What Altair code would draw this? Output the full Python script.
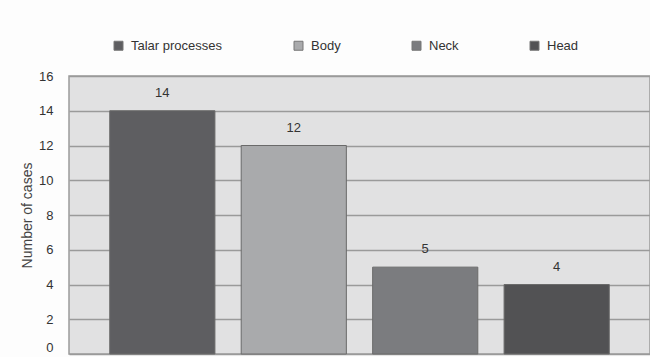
import altair as alt
import pandas as pd

categories = ["Talar processes", "Body", "Neck", "Head"]
cases = [14, 12, 5, 4]
colors = ["#5e5e61", "#a9aaac", "#7b7c7f", "#525254"]
y_ticks = [0, 2, 4, 6, 8, 10, 12, 14, 16]

df = pd.DataFrame({"category": categories, "cases": cases})

FONT = "Liberation Sans"

y_enc = alt.Y("cases:Q", scale=alt.Scale(domain=[0, 16], nice=False),
              axis=alt.Axis(values=y_ticks, tickCount=9, title="Number of cases", ticks=False,
                            labelOverlap=False,
                            labelBaseline={"condition": {"test": "datum.value == 0", "value": "bottom"},
                                           "value": "middle"},
                            labelPadding=16, labelFontSize=13, labelColor="#333333",
                            labelFont=FONT, titleFont=FONT, titleFontSize=14,
                            titleFontWeight="normal", titleColor="#444444",
                            titlePadding=4, grid=True, gridColor="#9a9a9a",
                            gridWidth=1.5, domain=False))

base = alt.Chart(df).encode(
    x=alt.X("category:N", sort=categories, axis=None,
            scale=alt.Scale(paddingInner=0.2, paddingOuter=0.31)),
    y=y_enc,
)

bars = base.mark_bar(stroke="#6a6a6a", strokeWidth=1).encode(
    color=alt.Color("category:N", sort=categories,
                    scale=alt.Scale(domain=categories, range=colors),
                    legend=alt.Legend(title=None, orient="none", direction="horizontal",
                                      legendX=43, legendY=-37, symbolType="square",
                                      symbolSize=81, symbolStrokeWidth=1,
                                      symbolStrokeColor="#777777",
                                      labelFont=FONT, labelFontSize=13,
                                      labelColor="#333333", columnPadding=69,
                                      labelOffset=6, padding=0)),
)

labels = base.mark_text(baseline="bottom", dy=-11, font=FONT, fontSize=13,
                        color="#333333").encode(
    text=alt.Text("cases:Q"),
)

chart = (bars + labels).properties(
    width=581, height=278,
    autosize=alt.AutoSizeParams(type="none"),
    padding={"left": 69, "top": 76, "right": 0, "bottom": 3},
    background="#fdfdfd",
).configure_view(fill="#e1e1e2", stroke="#9a9a9a", strokeWidth=1.5)

chart.save("out.html", embed_options={"renderer": "svg", "actions": False})
